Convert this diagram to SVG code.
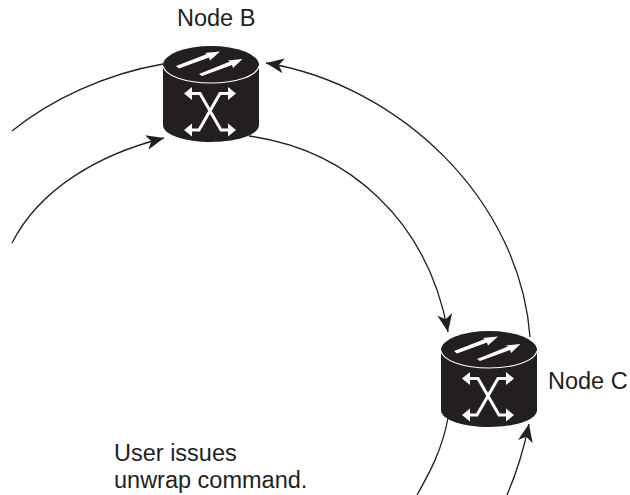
<svg xmlns="http://www.w3.org/2000/svg" width="630" height="495" viewBox="0 0 630 495">
<style>
text{font-family:"Liberation Sans",Arial,sans-serif;font-size:23.5px;fill:#231f20}
.c{fill:none;stroke:#231f20;stroke-width:1.3}
.w{fill:none;stroke:#fff;stroke-width:3}
.r{fill:none;stroke:#fff;stroke-width:1.2}
.f{fill:#fff;stroke:none}
.b{fill:#231f20}
</style>
<defs>
<marker id="a" markerUnits="userSpaceOnUse" markerWidth="20" markerHeight="17" refX="18" refY="7.5" orient="auto"><path d="M0 0L18 7.5L0 15L5 7.5Z" fill="#231f20"/></marker>
<g id="router">
<path class="b" d="M163 66V125C163 135 185 142 211 142S259 135 259 125V66Z"/>
<ellipse class="b" cx="211" cy="65" rx="48" ry="19"/>
<path class="r" d="M163 66C165 76 186 83 211 83S257 76 259 66"/>
<path class="f" d="M176 66L207 54L204.5 53L220 51.5L210 60.5L209 57.5L179 68.5Z"/>
<path class="f" d="M199 74L230 61.5L227.5 60.5L242.5 59L233 68L232 65L202 76Z"/>
<path class="w" d="M190 93.5H200L221 130H230M230 93.5H220L199 130H190"/>
<path class="f" d="M184 93.5L192 87V100ZM236 93.5L228 87V100ZM184 130L192 123.5V136.5ZM236 130L228 123.5V136.5Z"/>
</g>
</defs>
<g id="connectors">
<path class="c" d="M163 64C105 74 50 100 12 131"/>
<path class="c" marker-end="url(#a)" d="M12 243C40 188 100 154 164 138"/>
<path class="c" marker-end="url(#a)" d="M249 136C350 150 428 222 448 332"/>
<path class="c" marker-end="url(#a)" d="M530 337C520 200 400 85 266 63"/>
<path class="c" d="M448 418C442 450 430 472 417 495"/>
<path class="c" marker-end="url(#a)" d="M507 495C517 472 524 448 529 424"/>
</g>
<g id="node-b"><use href="#router"/><text x="177" y="26">Node B</text></g>
<g id="node-c"><use href="#router" transform="translate(278 285)"/><text x="548" y="389">Node C</text></g>
<g id="note"><text x="114" y="461">User issues</text><text x="114" y="488">unwrap command.</text></g>
</svg>
